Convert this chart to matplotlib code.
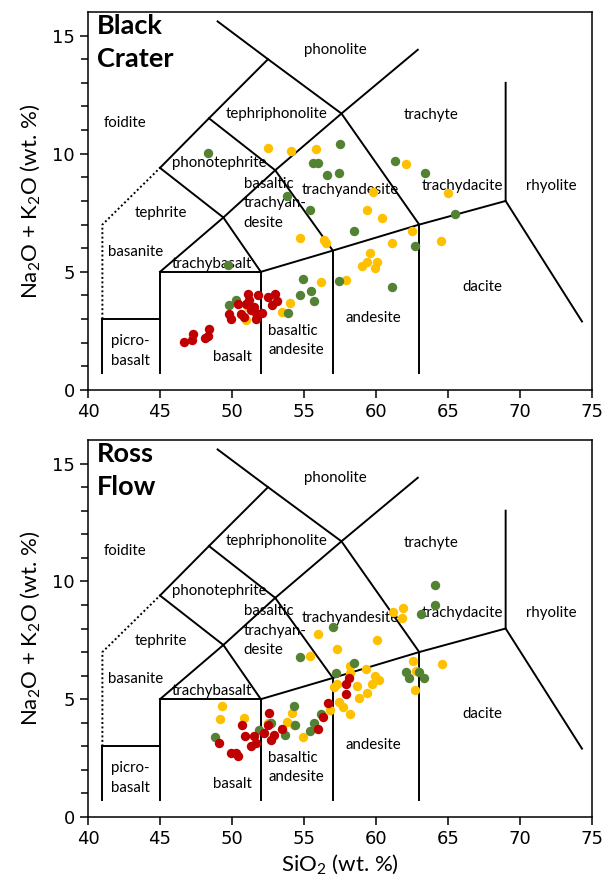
"""
TAS classification diagram - Black Crater / Ross Flow
"""
import matplotlib
matplotlib.use("Agg")
import matplotlib.pyplot as plt

plt.rcParams['mathtext.fontset'] = 'custom'
plt.rcParams['mathtext.rm'] = 'Lato'
plt.rcParams['mathtext.it'] = 'Lato:italic'

LABEL_FONT = 'Lato'

RED = '#C00000'
YELLOW = '#FFC000'
GREEN = '#548235'

# ---- Black Crater samples (SiO2, Na2O+K2O)
bc_green_x = [48.3, 57.5, 55.6, 56.0, 56.6, 57.4, 61.3, 63.4, 53.8, 55.4, 58.5, 62.7,
              49.7, 54.9, 57.4, 61.1, 54.7, 55.5, 55.7, 53.9, 49.8, 50.3, 65.5]
bc_green_y = [10.05, 10.4, 9.6, 9.6, 9.1, 9.2, 9.7, 9.2, 8.2, 7.6, 6.75, 6.1,
              5.3, 4.7, 4.6, 4.35, 4.0, 4.2, 3.75, 3.25, 3.6, 3.8, 7.45]
bc_yellow_x = [52.5, 54.1, 55.8, 62.1, 59.8, 65.0, 59.4, 60.4, 54.7, 56.4, 56.5, 62.5,
               61.1, 64.5, 59.6, 59.0, 59.4, 60.1, 59.9, 56.2, 57.9, 54.0, 53.5, 51.0, 51.1]
bc_yellow_y = [10.25, 10.1, 10.2, 9.55, 8.4, 8.35, 7.6, 7.3, 6.45, 6.35, 6.2, 6.75,
               6.2, 6.3, 5.8, 5.25, 5.4, 5.4, 5.15, 4.55, 4.65, 3.7, 3.3, 2.95, 3.5]
bc_red_x = [46.7, 47.2, 47.3, 48.1, 48.4, 48.3, 49.8, 49.9, 50.6, 50.8, 50.4, 51.1,
            51.8, 51.2, 51.0, 51.5, 51.7, 51.7, 52.1, 52.5, 53.0, 52.8, 53.1, 51.3]
bc_red_y = [2.05, 2.1, 2.35, 2.2, 2.6, 2.3, 3.2, 3.0, 3.2, 3.1, 3.65, 4.05,
            4.0, 3.8, 3.65, 3.5, 3.25, 3.0, 3.25, 3.95, 4.05, 3.6, 3.75, 3.4]

# ---- Ross Flow samples
rf_green_x = [64.1, 64.1, 63.1, 57.0, 54.7, 58.5, 57.2, 62.1, 62.3, 63.3, 63.0, 54.3,
              56.2, 55.7, 55.4, 54.4, 53.7, 52.7, 51.9, 48.8]
rf_green_y = [9.85, 9.0, 8.6, 8.05, 6.8, 6.55, 6.1, 6.15, 5.9, 5.9, 6.15, 4.7,
              4.35, 4.0, 3.65, 3.9, 3.5, 4.0, 3.7, 3.4]
rf_yellow_x = [61.2, 61.9, 61.8, 56.0, 60.1, 57.3, 55.4, 58.2, 59.3, 58.2, 62.6, 62.8,
               64.6, 62.7, 59.9, 60.2, 59.7, 58.7, 57.3, 57.1, 59.4, 58.8, 57.4, 57.7,
               58.2, 56.8, 54.2, 53.8, 54.3, 54.9, 49.3, 49.2, 50.8, 52.5]
rf_yellow_y = [8.7, 8.85, 8.45, 7.75, 7.5, 7.15, 6.85, 6.4, 6.3, 6.1, 6.6, 6.2,
               6.5, 5.4, 6.0, 5.8, 5.65, 5.55, 5.65, 5.5, 5.25, 5.05, 4.9, 4.65,
               4.35, 4.55, 4.4, 4.05, 3.9, 3.4, 4.7, 4.15, 4.2, 4.0]
rf_red_x = [58.1, 57.9, 57.9, 56.7, 56.3, 56.0, 53.5, 52.6, 52.5, 52.2, 52.9, 52.7,
            51.5, 50.9, 51.7, 51.3, 50.7, 49.1, 49.9, 50.4, 50.3]
rf_red_y = [5.9, 5.65, 5.2, 4.85, 4.25, 3.75, 3.75, 4.4, 3.9, 3.55, 3.5, 3.25,
            3.45, 3.45, 3.15, 3.0, 3.9, 3.15, 2.7, 2.6, 2.7]

# ---- TAS field boundaries (Le Bas et al. 1986)
solid_lines = [
    [(41, 0.7), (41, 3), (45, 3)],
    [(45, 0.7), (45, 5), (52, 5), (52, 0.7)],
    [(52, 5), (57, 5.9), (63, 7), (69, 8), (69, 13)],
    [(57, 0.7), (57, 5.9)],
    [(63, 0.7), (63, 7)],
    [(69, 8), (74.3, 2.9)],
    [(45, 5), (49.4, 7.3), (52, 5)],
    [(49.4, 7.3), (53, 9.3), (57, 5.9)],
    [(45, 9.4), (49.4, 7.3)],
    [(45, 9.4), (48.4, 11.5), (52.5, 14)],
    [(48.4, 11.5), (53, 9.3)],
    [(53, 9.3), (57.6, 11.7), (62.9, 14.4)],
    [(49.0, 15.6), (52.5, 14), (57.6, 11.7), (63, 7)],
]
dotted_lines = [
    [(41, 3), (41, 7), (45, 9.4)],
]

field_labels = [
    ("foidite", 42.6, 11.3, 'center'),
    ("phonolite", 57.2, 14.4, 'center'),
    ("tephriphonolite", 53.1, 11.7, 'center'),
    ("trachyte", 63.8, 11.65, 'center'),
    ("phonotephrite", 49.1, 9.6, 'center'),
    ("tephrite", 45.1, 7.48, 'center'),
    ("basanite", 41.4, 5.84, 'left'),
    ("basaltic\ntrachyan-\ndesite", 50.8, 7.9, 'left'),
    ("trachyandesite", 58.2, 8.45, 'center'),
    ("trachydacite", 66.0, 8.65, 'center'),
    ("rhyolite", 72.2, 8.65, 'center'),
    ("trachybasalt", 48.6, 5.35, 'center'),
    ("picro-\nbasalt", 41.6, 1.65, 'left'),
    ("basalt", 50.0, 1.4, 'center'),
    ("basaltic\nandesite", 52.5, 2.1, 'left'),
    ("andesite", 59.8, 3.04, 'center'),
    ("dacite", 67.4, 4.35, 'center'),
]


def draw_tas(ax):
    for seg in solid_lines:
        xs, ys = zip(*seg)
        ax.plot(xs, ys, color='black', lw=1.4, solid_joinstyle='miter', zorder=1)
    for seg in dotted_lines:
        xs, ys = zip(*seg)
        ax.plot(xs, ys, color='black', lw=1.4, ls=(0, (1, 1.3)), zorder=1)
    for text, x, y, ha in field_labels:
        ax.text(x, y, text, ha=ha, va='center', fontsize=10.8, family=LABEL_FONT,
                linespacing=1.5, zorder=2)


def draw_panel(ax, title, green, yellow, red):
    draw_tas(ax)
    ms = 46
    ax.scatter(*yellow, s=ms, color=YELLOW, lw=0, zorder=3)
    ax.scatter(*green, s=ms, color=GREEN, lw=0, zorder=3)
    ax.scatter(*red, s=ms, color=RED, lw=0, zorder=4)
    ax.set_xlim(40, 75)
    ax.set_ylim(0, 16)
    ax.set_xticks(range(40, 76, 5))
    ax.set_yticks([0, 5, 10, 15])
    ax.set_yticks(range(0, 16), minor=True)
    ax.tick_params(axis='both', which='major', direction='out', length=6,
                   width=1.1, labelsize=13)
    ax.tick_params(axis='y', which='minor', direction='out', length=5, width=1.1)
    for sp in ax.spines.values():
        sp.set_linewidth(1.1)
    ax.set_ylabel(r'Na$_2$O + K$_2$O (wt. %)', fontsize=16, family=LABEL_FONT,
                  labelpad=7)
    ax.text(0.018, 0.995, title, transform=ax.transAxes, ha='left', va='top',
            fontsize=19.5, fontweight='bold', family=LABEL_FONT, linespacing=1.45)


fig = plt.figure(figsize=(6.11, 8.92), dpi=100)
ax1 = fig.add_axes([0.144, 0.5628, 0.825, 0.4238])
ax2 = fig.add_axes([0.144, 0.0841, 0.825, 0.4226])

draw_panel(ax1, "Black\nCrater", (bc_green_x, bc_green_y), (bc_yellow_x, bc_yellow_y),
           (bc_red_x, bc_red_y))
draw_panel(ax2, "Ross\nFlow", (rf_green_x, rf_green_y), (rf_yellow_x, rf_yellow_y),
           (rf_red_x, rf_red_y))
ax2.set_xlabel(r'SiO$_2$ (wt. %)', fontsize=16, family=LABEL_FONT, labelpad=3)

fig.savefig("out.png", dpi=100)
